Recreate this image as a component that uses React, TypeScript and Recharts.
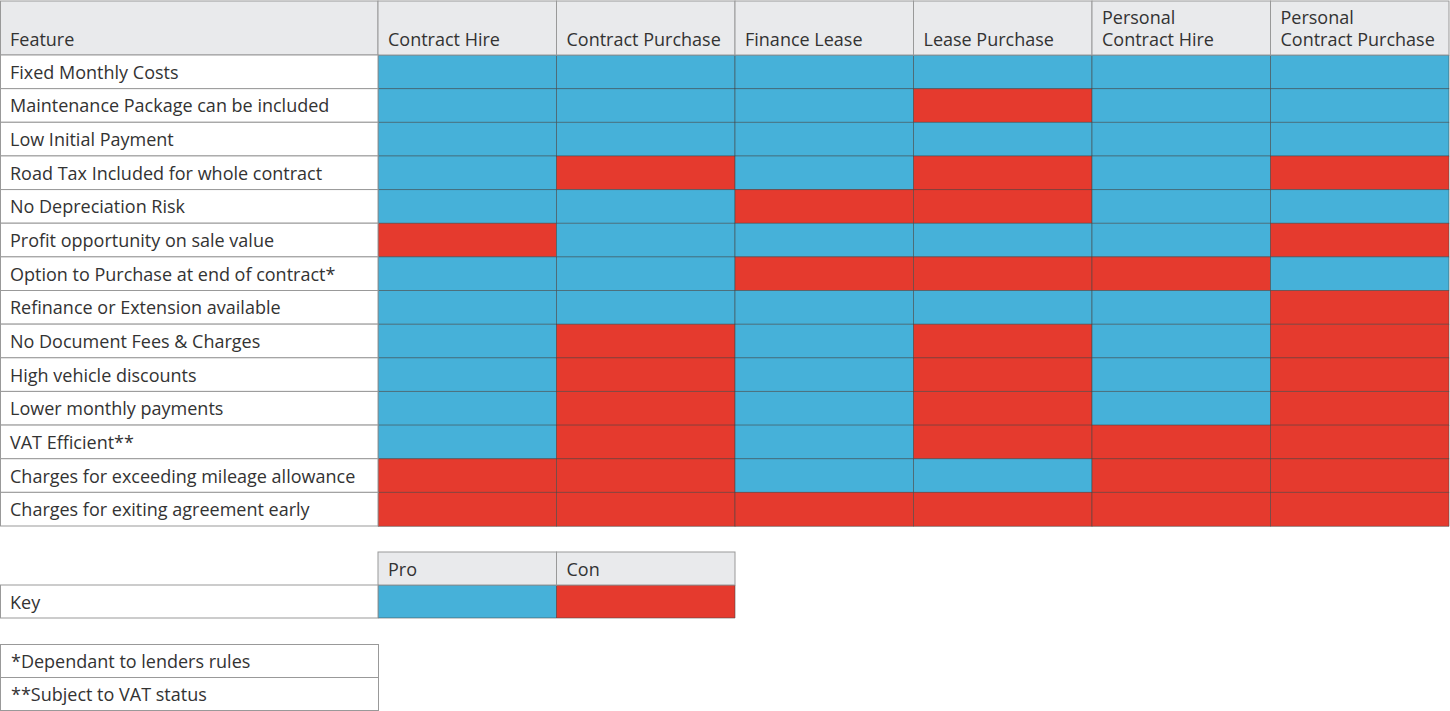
import React from 'react';
import { BarChart, Bar, XAxis, YAxis, Cell } from 'recharts';

const features = [
  'Fixed Monthly Costs',
  'Maintenance Package can be included',
  'Low Initial Payment',
  'Road Tax Included for whole contract',
  'No Depreciation Risk',
  'Profit opportunity on sale value',
  'Option to Purchase at end of contract*',
  'Refinance or Extension available',
  'No Document Fees & Charges',
  'High vehicle discounts',
  'Lower monthly payments',
  'VAT Efficient**',
  'Charges for exceeding mileage allowance',
  'Charges for exiting agreement early',
];

const columnLabels = [
  'Contract Hire',
  'Contract Purchase',
  'Finance Lease',
  'Lease Purchase',
  'Personal\nContract Hire',
  'Personal\nContract Purchase',
];

const contractHire = ['Pro', 'Pro', 'Pro', 'Pro', 'Pro', 'Con', 'Pro', 'Pro', 'Pro', 'Pro', 'Pro', 'Pro', 'Con', 'Con'];
const contractPurchase = ['Pro', 'Pro', 'Pro', 'Con', 'Pro', 'Pro', 'Pro', 'Pro', 'Con', 'Con', 'Con', 'Con', 'Con', 'Con'];
const financeLease = ['Pro', 'Pro', 'Pro', 'Pro', 'Con', 'Pro', 'Con', 'Pro', 'Pro', 'Pro', 'Pro', 'Pro', 'Pro', 'Con'];
const leasePurchase = ['Pro', 'Con', 'Pro', 'Con', 'Con', 'Pro', 'Con', 'Pro', 'Con', 'Con', 'Con', 'Con', 'Pro', 'Con'];
const personalContractHire = ['Pro', 'Pro', 'Pro', 'Pro', 'Pro', 'Pro', 'Con', 'Pro', 'Pro', 'Pro', 'Pro', 'Con', 'Con', 'Con'];
const personalContractPurchase = ['Pro', 'Pro', 'Pro', 'Con', 'Pro', 'Con', 'Pro', 'Con', 'Con', 'Con', 'Con', 'Con', 'Con', 'Con'];

const seriesStatus = [
  contractHire,
  contractPurchase,
  financeLease,
  leasePurchase,
  personalContractHire,
  personalContractPurchase,
];

const keyLabels = ['Pro', 'Con'];
const keyRowLabel = 'Key';
const featureHeader = 'Feature';
const footnotes = ['*Dependant to lenders rules', '**Subject to VAT status'];

const BLUE = '#46b1d9';
const RED = '#e53a2e';
const HEADER_BG = '#e9eaec';
const BORDER = '#999999';
const CELL_STROKE = 'rgba(70,70,70,0.55)';
const TEXT = '#333333';
const FONT = '"Open Sans", sans-serif';
const FONT_SIZE = 18;
const FONT_WEIGHT = 400;

const colorFor = (s: string) => (s === 'Pro' ? BLUE : RED);

// chart geometry
const WIDTH = 1450;
const LEFT_W = 378;
const MAIN_TOP_MARGIN = 1;
const HEADER_H = 54;
const MAIN_H = 527;
const ROWS_H = MAIN_H - MAIN_TOP_MARGIN - HEADER_H - 1;
const ROW_H = ROWS_H / features.length;
const COL_W = (WIDTH - 1 - LEFT_W) / columnLabels.length;

const mainData = features.map((f, i) => {
  const row: any = { feature: f };
  seriesStatus.forEach((col, j) => {
    row['c' + j] = 1;
    row['s' + j] = col[i];
  });
  return row;
});

const keyData = [{ feature: keyRowLabel, pro: 1, con: 1 }];

const textStyle = {
  fontFamily: FONT,
  fontSize: FONT_SIZE,
  fontWeight: FONT_WEIGHT,
  fill: TEXT,
} as any;

const RowTick = (rowH: number) => (props: any) => {
  const { y, payload } = props;
  return (
    <g>
      <rect x={0.5} y={y - rowH / 2} width={LEFT_W - 0.5} height={rowH} fill="#ffffff" stroke={BORDER} strokeWidth={1} />
      <text x={10} y={y} dominantBaseline="central" style={textStyle}>
        {payload.value}
      </text>
    </g>
  );
};

const HeaderTick = (labels: string[], colW: number, top: number, h: number) => (props: any) => {
  const { x, index } = props;
  const lines = String(labels[index] ?? '').split('\n');
  const left = x - colW / 2;
  const bottom = top + h;
  return (
    <g>
      <rect x={left} y={top} width={colW} height={h} fill={HEADER_BG} stroke={BORDER} strokeWidth={1} />
      {lines.map((ln, k) => (
        <text key={k} x={left + 10} y={bottom - 9 - (lines.length - 1 - k) * 22} style={textStyle}>
          {ln}
        </text>
      ))}
    </g>
  );
};

const FeatureHeader = (props: any) => {
  const vb = props.viewBox || { y: MAIN_TOP_MARGIN + HEADER_H };
  const top = vb.y - HEADER_H;
  return (
    <g>
      <rect x={0.5} y={top} width={LEFT_W - 0.5} height={HEADER_H} fill={HEADER_BG} stroke={BORDER} strokeWidth={1} />
      <text x={10} y={top + HEADER_H - 9} style={textStyle}>
        {featureHeader}
      </text>
    </g>
  );
};

const colTicks = columnLabels.map((_, i) => i + 0.5);
const keyTicks = keyLabels.map((_, i) => i + 0.5);

const KEY_TOP = 551;
const KEY_HEADER_H = 33;
const KEY_H = 68;
const KEY_ROW_H = KEY_H - 1 - KEY_HEADER_H - 1;
const KEY_WIDTH = 736;
const KEY_COL_W = (KEY_WIDTH - 1 - LEFT_W) / keyLabels.length;

export default function App() {
  return (
    <div style={{ position: 'absolute', left: 0, top: 0, width: WIDTH, height: 711, background: '#fff' }}>
      <div style={{ position: 'absolute', left: 0, top: 0 }}>
        <BarChart
          width={WIDTH}
          height={MAIN_H}
          data={mainData}
          layout="vertical"
          barCategoryGap={0}
          margin={{ top: MAIN_TOP_MARGIN, right: 1, bottom: 1, left: 0 }}
        >
          <XAxis
            type="number"
            orientation="top"
            domain={[0, columnLabels.length]}
            ticks={colTicks}
            height={HEADER_H}
            axisLine={false}
            tickLine={false}
            interval={0}
            tick={HeaderTick(columnLabels, COL_W, MAIN_TOP_MARGIN, HEADER_H)}
          />
          <YAxis
            type="category"
            dataKey="feature"
            width={LEFT_W}
            axisLine={false}
            tickLine={false}
            interval={0}
            tick={RowTick(ROW_H)}
            label={FeatureHeader}
          />
          {seriesStatus.map((col, j) => (
            <Bar
              key={j}
              dataKey={'c' + j}
              stackId="a"
              isAnimationActive={false}
              stroke={CELL_STROKE}
              strokeWidth={1}
            >
              {mainData.map((row, i) => (
                <Cell key={i} fill={colorFor(row['s' + j])} />
              ))}
            </Bar>
          ))}
        </BarChart>
      </div>

      <div style={{ position: 'absolute', left: 0, top: KEY_TOP }}>
        <BarChart
          width={KEY_WIDTH}
          height={KEY_H}
          data={keyData}
          layout="vertical"
          barCategoryGap={0}
          margin={{ top: 1, right: 1, bottom: 1, left: 0 }}
        >
          <XAxis
            type="number"
            orientation="top"
            domain={[0, keyLabels.length]}
            ticks={keyTicks}
            height={KEY_HEADER_H}
            axisLine={false}
            tickLine={false}
            interval={0}
            tick={HeaderTick(keyLabels, KEY_COL_W, 1, KEY_HEADER_H)}
          />
          <YAxis
            type="category"
            dataKey="feature"
            width={LEFT_W}
            axisLine={false}
            tickLine={false}
            interval={0}
            tick={RowTick(KEY_ROW_H)}
          />
          <Bar dataKey="pro" stackId="k" isAnimationActive={false} stroke={CELL_STROKE} strokeWidth={1} fill={BLUE} />
          <Bar dataKey="con" stackId="k" isAnimationActive={false} stroke={CELL_STROKE} strokeWidth={1} fill={RED} />
        </BarChart>
      </div>

      <div
        style={{
          position: 'absolute',
          left: 0,
          top: 644,
          width: LEFT_W + 1,
          boxSizing: 'border-box',
          border: '1px solid ' + BORDER,
          fontFamily: FONT,
          fontSize: FONT_SIZE,
          fontWeight: FONT_WEIGHT,
          color: TEXT,
        }}
      >
        {footnotes.map((n, i) => (
          <div
            key={i}
            style={{
              height: i > 0 ? 33 : 32,
              lineHeight: '32px',
              paddingLeft: 10,
              boxSizing: 'border-box',
              borderTop: i > 0 ? '1px solid ' + BORDER : 'none',
            }}
          >
            {n}
          </div>
        ))}
      </div>
    </div>
  );
}
